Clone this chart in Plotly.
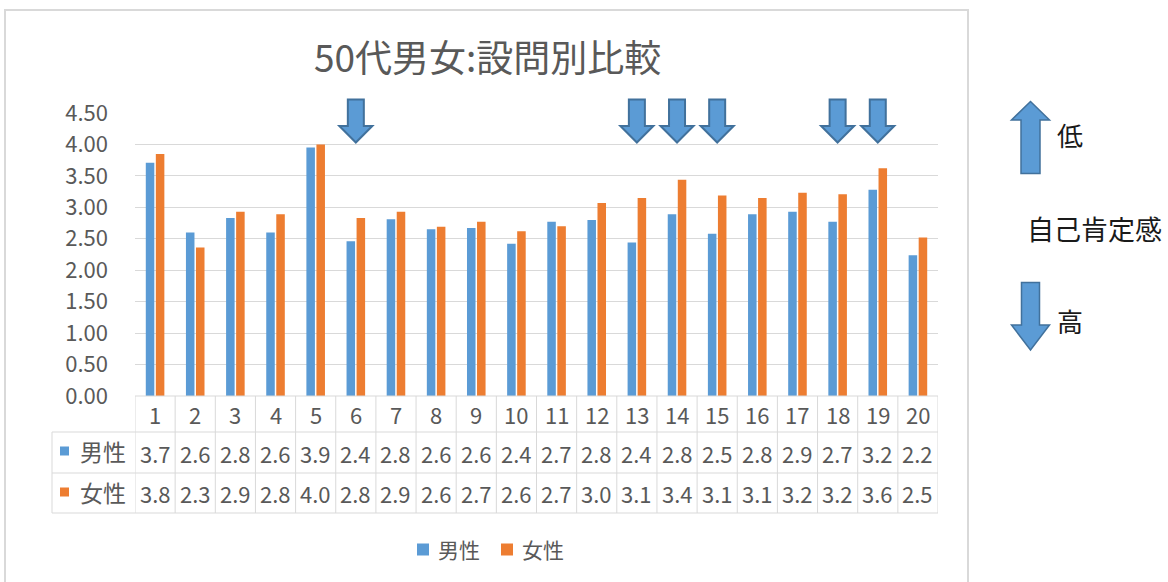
import math
import plotly.graph_objects as go

# ---------------- data ----------------
questions = list(range(1, 21))
male_vals = [3.71, 2.60, 2.83, 2.60, 3.95, 2.46, 2.81, 2.65, 2.67, 2.42,
             2.77, 2.80, 2.44, 2.89, 2.58, 2.89, 2.93, 2.77, 3.28, 2.24]
female_vals = [3.85, 2.36, 2.93, 2.89, 4.00, 2.83, 2.93, 2.69, 2.77, 2.62,
               2.70, 3.07, 3.15, 3.44, 3.19, 3.15, 3.23, 3.21, 3.62, 2.52]
series_names = ["男性", "女性"]
flagged_questions = [6, 13, 14, 15, 18, 19]
title_text = "50代男女:設問別比較"
side_labels = ["低", "自己肯定感", "高"]
y_ticks = [0, 0.5, 1, 1.5, 2, 2.5, 3, 3.5, 4, 4.5]

# ---------------- style ----------------
W, H = 1168, 582
PL, PR, PT, PB = 135, 938, 113, 396
BLUE, ORANGE = "#5B9BD5", "#ED7D31"
ARROW_LINE = "#41719C"
GRID = "#D9D9D9"
TXT = "#595959"
FONT = "Noto Sans CJK JP"


def px(x):
    return (x - PL) / (PR - PL)


def py(y):
    return (PB - y) / (PB - PT)


def trunc1(v):
    return f"{math.floor(v * 10 + 1e-9) / 10:.1f}"


fig = go.Figure()
fig.add_trace(go.Bar(x=questions, y=male_vals, name=series_names[0],
                     marker=dict(color=BLUE, line=dict(width=0)), showlegend=False))
fig.add_trace(go.Bar(x=questions, y=female_vals, name=series_names[1],
                     marker=dict(color=ORANGE, line=dict(width=0)), showlegend=False))

shapes = []
annotations = []


def text(x, y, s, size, color=TXT, xref="paper", xanchor="center"):
    annotations.append(dict(x=x, y=y, xref=xref, yref="paper", text=s,
                            showarrow=False, xanchor=xanchor, yanchor="middle",
                            font=dict(family=FONT, size=size, color=color)))


# chart area border
shapes.append(dict(type="rect", xref="paper", yref="paper",
                   x0=px(5), x1=px(968), y0=py(10), y1=py(595),
                   line=dict(color=GRID, width=2), fillcolor="rgba(0,0,0,0)",
                   layer="below"))

# data table lines
row_y = [396, 432, 473, 513]
for i, yy in enumerate(row_y):
    x0 = px(PL) if i == 0 else px(52)
    shapes.append(dict(type="line", xref="paper", yref="paper",
                       x0=x0, x1=px(PR), y0=py(yy), y1=py(yy),
                       line=dict(color=GRID, width=1)))
for k in range(len(questions) + 1):
    xb = questions[0] - 0.5 + k
    shapes.append(dict(type="line", xref="x", yref="paper",
                       x0=xb, x1=xb, y0=py(396), y1=py(513),
                       line=dict(color=GRID, width=1)))
shapes.append(dict(type="line", xref="paper", yref="paper",
                   x0=px(52), x1=px(52), y0=py(432), y1=py(513),
                   line=dict(color=GRID, width=1)))

# header numbers and values
for q, m, f in zip(questions, male_vals, female_vals):
    text(q, py(414), str(q), 22, xref="x")
    text(q, py(452.5), trunc1(m), 22, xref="x")
    text(q, py(493), trunc1(f), 22, xref="x")

# row labels
for name, col, yc in [(series_names[0], BLUE, 451), (series_names[1], ORANGE, 492)]:
    shapes.append(dict(type="rect", xref="paper", yref="paper",
                       x0=px(60), x1=px(69), y0=py(yc - 4.5), y1=py(yc + 4.5),
                       fillcolor=col, line=dict(width=0)))
    text(px(78), py(yc), name, 23, xanchor="left")

# legend (drawn)
for name, col, sx in [(series_names[0], BLUE, 417), (series_names[1], ORANGE, 501)]:
    shapes.append(dict(type="rect", xref="paper", yref="paper",
                       x0=px(sx), x1=px(sx + 12), y0=py(543.5), y1=py(555.5),
                       fillcolor=col, line=dict(width=0)))
    text(px(sx + 19), py(549), name, 21, xanchor="left")

# down arrows above flagged questions
cw = (PR - PL) / len(questions)
for q in flagged_questions:
    sw, hw = 8 / cw, 16.5 / cw
    yt, yh, yp = py(99.5), py(126), py(142.5)
    path = (f"M{q - sw},{yt} L{q + sw},{yt} L{q + sw},{yh} L{q + hw},{yh} "
            f"L{q},{yp} L{q - hw},{yh} L{q - sw},{yh} Z")
    shapes.append(dict(type="path", xref="x", yref="paper", path=path,
                       fillcolor=BLUE, line=dict(color=ARROW_LINE, width=2)))

# right-side arrows
cx = 1030.5
up = (f"M{px(cx)},{py(101.5)} L{px(cx + 19)},{py(120)} L{px(cx + 9.5)},{py(120)} "
      f"L{px(cx + 9.5)},{py(173.5)} L{px(cx - 9.5)},{py(173.5)} L{px(cx - 9.5)},{py(120)} "
      f"L{px(cx - 19)},{py(120)} Z")
down = (f"M{px(cx - 9)},{py(282.5)} L{px(cx + 9)},{py(282.5)} L{px(cx + 9)},{py(325)} "
        f"L{px(cx + 19)},{py(325)} L{px(cx)},{py(350)} L{px(cx - 19)},{py(325)} "
        f"L{px(cx - 9)},{py(325)} Z")
for p in (up, down):
    shapes.append(dict(type="path", xref="paper", yref="paper", path=p,
                       fillcolor=BLUE, line=dict(color=ARROW_LINE, width=1.5)))

text(px(1070), py(134), side_labels[0], 26, color="#1a1a1a")
text(px(1094), py(228), side_labels[1], 27, color="#1a1a1a")
text(px(1070), py(320), side_labels[2], 26, color="#1a1a1a")

# title
text(px(487), py(56), title_text, 37)

fig.update_layout(
    width=W, height=H,
    margin=dict(l=PL, r=W - PR, t=PT, b=H - PB, autoexpand=False),
    paper_bgcolor="white", plot_bgcolor="white",
    barmode="group", bargap=0.5, bargroupgap=0.15,
    showlegend=False,
    shapes=shapes, annotations=annotations,
    font=dict(family=FONT, color=TXT),
)
fig.update_xaxes(range=[0.5, 20.5], showticklabels=False, showgrid=False,
                 zeroline=False, showline=False, fixedrange=True)
fig.update_yaxes(range=[0, 4.5], tickvals=y_ticks,
                 ticktext=[f"{v:.2f}" for v in y_ticks],
                 showgrid=True, gridcolor=GRID, gridwidth=1,
                 zeroline=False, showline=False, ticks="",
                 ticklabelstandoff=26,
                 tickfont=dict(family=FONT, size=22, color=TXT))

fig.write_html("out.html", config={"displayModeBar": False},
               post_script="document.body.style.margin='0';")
